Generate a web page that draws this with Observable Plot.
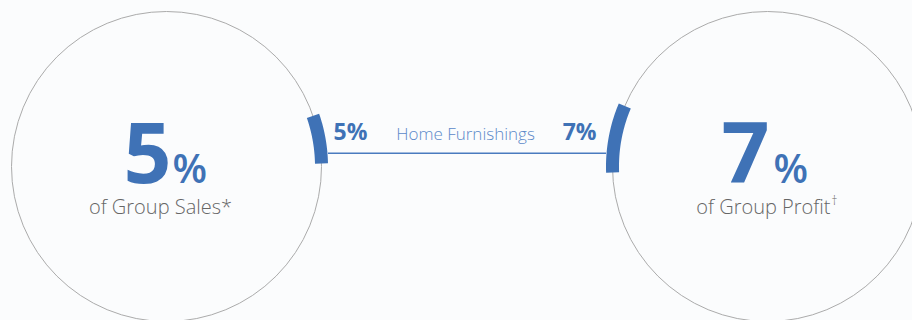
<!DOCTYPE html>
<html>
<head>
<meta charset="utf-8">
<script src="https://cdn.jsdelivr.net/npm/d3@7"></script>
<script src="https://cdn.jsdelivr.net/npm/@observablehq/plot@0.6"></script>
<style>
  html, body { margin: 0; padding: 0; background: #fbfcfd; }
  #chart svg { display: block; }
</style>
</head>
<body>
<div id="chart"></div>
<script>
// ---- data ----
const segment = "Home Furnishings";
const metrics = ["Group Sales", "Group Profit"];
const shares = [5, 7];            // percent
const footnotes = ["*", "\u2020"];

// ---- layout (not data) ----
const W = 912, H = 320;
const R = 155, CY = 166;
const centers = [166, 767];
const arcStart = [1.1, -2.2];     // degrees above horizontal where each arc begins
const blue = "#3f72b6";
const font = "Open Sans, Lato, sans-serif";

const rows = metrics.map((m, i) => ({
  metric: m, share: shares[i], note: footnotes[i], cx: centers[i], side: i === 0 ? 1 : -1, start: arcStart[i]
}));

// arc points derived from share values (share% of full circle)
const arcPts = [];
rows.forEach((d, i) => {
  const span = d.share / 100 * 360;
  const n = 40;
  for (let k = 0; k <= n; k++) {
    const a = (d.start + span * k / n) * Math.PI / 180;
    arcPts.push({ g: i, x: d.cx + d.side * R * Math.cos(a), y: CY - R * Math.sin(a) });
  }
});

const lineY = 152.7;
const linkX1 = centers[0] + R + 6.5, linkX2 = centers[1] - R - 6.5;

const plot = Plot.plot({
  width: W, height: H,
  margin: 0,
  style: { background: "#fbfcfd", fontFamily: font },
  x: { domain: [0, W], range: [0, W], axis: null },
  y: { domain: [0, H], range: [0, H], axis: null },
  marks: [
    Plot.dot(rows, { x: "cx", y: () => CY, r: R, fill: "none", stroke: "#ababab", strokeWidth: 1 }),
    Plot.link([segment], { x1: () => linkX1, x2: () => linkX2, y1: () => lineY, y2: () => lineY, stroke: "#4a7bbf", strokeWidth: 1.6 }),
    Plot.line(arcPts, { x: "x", y: "y", z: "g", stroke: blue, strokeWidth: 13, strokeLinecap: "butt", curve: "linear" }),
    // big numbers
    Plot.text(rows, { x: d => d.cx + (d.side > 0 ? 5 : 2), y: () => 182, text: d => String(d.share), textAnchor: "end", lineAnchor: "bottom", fontSize: 84, fontWeight: 700, fill: blue }),
    Plot.text(rows, { x: d => d.cx + (d.side > 0 ? 6 : 6), y: () => 182, text: () => "%", textAnchor: "start", lineAnchor: "bottom", fontSize: 40, fontWeight: 600, fill: blue }),
    // sub labels
    Plot.text([rows[0]], { x: d => d.cx - 6, y: () => 213, text: d => "of " + d.metric + d.note, textAnchor: "middle", lineAnchor: "bottom", fontSize: 20, fontWeight: 300, fill: "#666" }),
    Plot.text([rows[1]], { x: d => d.cx + 63, y: () => 213, text: d => "of " + d.metric, textAnchor: "end", lineAnchor: "bottom", fontSize: 20, fontWeight: 300, fill: "#666" }),
    Plot.text([rows[1]], { x: d => d.cx + 64, y: () => 204, text: d => d.note, textAnchor: "start", lineAnchor: "bottom", fontSize: 12, fontWeight: 300, fill: "#666" }),
    // connector labels
    Plot.text([rows[0]], { x: () => 333, y: () => 139, text: d => d.share + "%", textAnchor: "start", lineAnchor: "bottom", fontSize: 23, fontWeight: 700, fill: blue }),
    Plot.text([rows[1]], { x: () => 596, y: () => 139, text: d => d.share + "%", textAnchor: "end", lineAnchor: "bottom", fontSize: 23, fontWeight: 700, fill: blue }),
    Plot.text([segment], { x: () => 465, y: () => 139, text: d => d, textAnchor: "middle", lineAnchor: "bottom", fontSize: 17, fontWeight: 300, fill: "#5b89c9" })
  ]
});
document.getElementById("chart").appendChild(plot);
</script>
</body>
</html>
